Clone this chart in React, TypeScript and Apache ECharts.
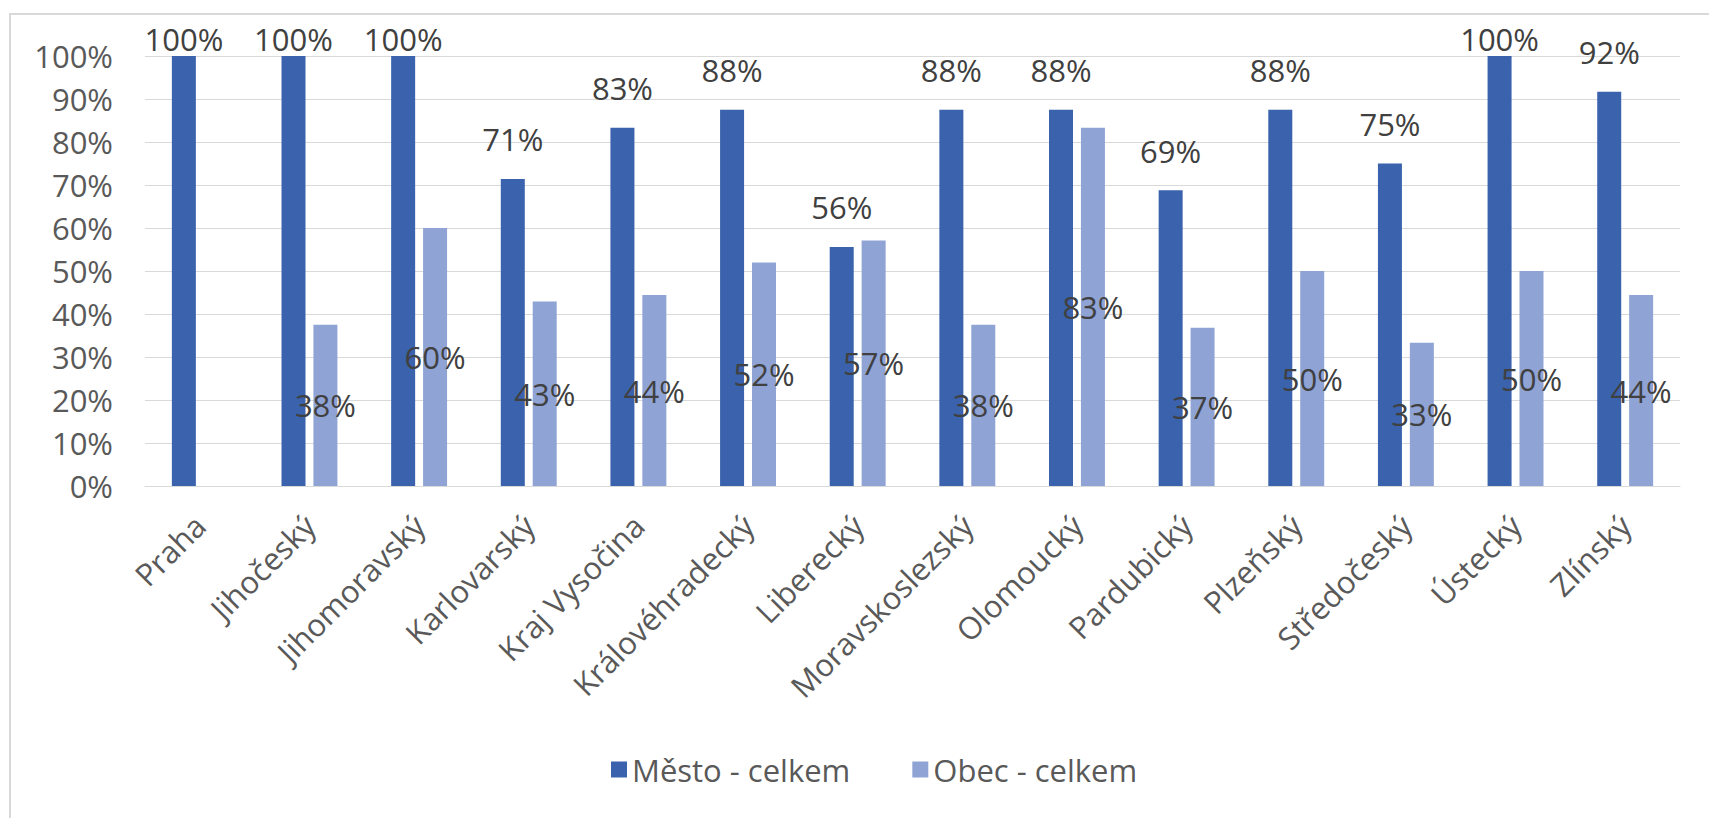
import React, { useEffect, useRef } from "react";
import * as echarts from "echarts";

const categories = [
  "Praha",
  "Jihočeský",
  "Jihomoravský",
  "Karlovarský",
  "Kraj Vysočina",
  "Královéhradecký",
  "Liberecký",
  "Moravskoslezský",
  "Olomoucký",
  "Pardubický",
  "Plzeňský",
  "Středočeský",
  "Ústecký",
  "Zlínský",
];

const mestoValues = [100, 100, 100, 71.4, 83.3, 87.5, 55.6, 87.5, 87.5, 68.8, 87.5, 75, 100, 91.7];
const obecValues: (number | null)[] = [null, 37.5, 60, 42.9, 44.4, 52, 57.1, 37.5, 83.3, 36.8, 50, 33.3, 50, 44.4];

const yTicks = [0, 10, 20, 30, 40, 50, 60, 70, 80, 90, 100];

const seriesNames = ["Město - celkem", "Obec - celkem"];

const FONT = "Open Sans";
const AXIS_COLOR = "#595959";
const LABEL_COLOR = "#404040";
const FS = 31;

export default function App() {
  const ref = useRef<HTMLDivElement>(null);

  useEffect(() => {
    if (!ref.current) return;
    const chart = echarts.init(ref.current, undefined, { renderer: "svg" });
    const fmt = (p: any) => (p.value == null ? "" : Math.round(p.value) + "%");
    chart.setOption({
      animation: false,
      backgroundColor: "#ffffff",
      textStyle: { fontFamily: FONT },
      graphic: [
        { type: "line", shape: { x1: 10, y1: 13, x2: 10, y2: 818 }, style: { stroke: "#d9d9d9", lineWidth: 2 } },
        { type: "line", shape: { x1: 9, y1: 14, x2: 1709, y2: 14 }, style: { stroke: "#d9d9d9", lineWidth: 2 } },
      ],
      grid: { left: 145, right: 29, top: 56, bottom: 332, containLabel: false },
      legend: {
        data: seriesNames,
        left: 606,
        top: 749,
        itemWidth: 16,
        itemHeight: 16,
        itemGap: 62,
        icon: "rect",
        textStyle: { fontFamily: FONT, fontSize: FS, color: AXIS_COLOR },
      },
      xAxis: {
        type: "category",
        data: categories,
        axisLine: { lineStyle: { color: "#d9d9d9", width: 1 } },
        axisTick: { show: false },
        axisLabel: {
          rotate: 45,
          interval: 0,
          margin: 34,
          fontFamily: FONT,
          fontSize: FS,
          color: AXIS_COLOR,
        },
      },
      yAxis: {
        type: "value",
        min: 0,
        max: 100,
        interval: 10,
        axisLine: { show: false },
        axisTick: { show: false },
        splitLine: { lineStyle: { color: "#d9d9d9", width: 1 } },
        axisLabel: {
          margin: 32,
          fontFamily: FONT,
          fontSize: FS,
          color: AXIS_COLOR,
          formatter: (v: number) => (yTicks.includes(v) ? v + "%" : ""),
        },
      },
      series: [
        {
          name: seriesNames[0],
          type: "bar",
          barWidth: 24,
          barGap: "33%",
          itemStyle: { color: "#3A62AD" },
          data: mestoValues.map((v) => ({
            value: v,
            label: { distance: v >= 99 ? 2 : 24 },
          })),
          label: {
            show: true,
            position: "top",
            formatter: fmt,
            fontFamily: FONT,
            fontSize: FS,
            color: LABEL_COLOR,
          },
        },
        {
          name: seriesNames[1],
          type: "bar",
          barWidth: 24,
          itemStyle: { color: "#8FA3D5" },
          data: obecValues,
          label: {
            show: true,
            position: "inside",
            formatter: fmt,
            fontFamily: FONT,
            fontSize: FS,
            color: LABEL_COLOR,
          },
        },
      ],
    });
    return () => chart.dispose();
  }, []);

  return (
    <div
      ref={ref}
      style={{ position: "fixed", left: 0, top: 0, width: 1709, height: 818, background: "#fff" }}
    />
  );
}
